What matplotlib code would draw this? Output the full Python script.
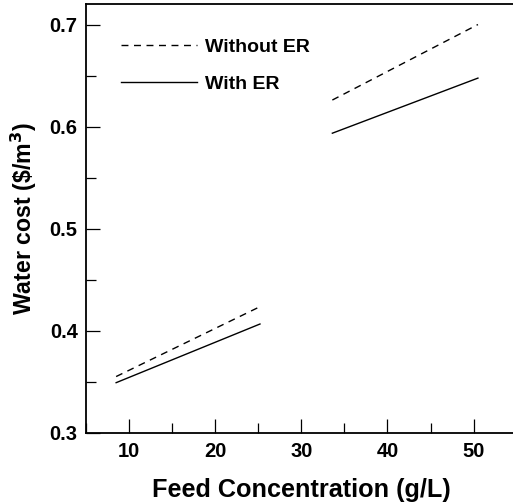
import numpy as np
import matplotlib.pyplot as plt
from matplotlib.ticker import MultipleLocator

plt.rcParams['font.family'] = ['Liberation Sans', 'DejaVu Sans']
plt.rcParams['font.weight'] = 'bold'

# two separate ranges of feed concentration
conc_low = [8.5, 25.2]
conc_high = [33.6, 50.5]
without_er_low = [0.355, 0.4235]
without_er_high = [0.626, 0.700]
with_er_low = [0.349, 0.4065]
with_er_high = [0.5935, 0.6475]

fig = plt.figure(figsize=(5.13, 5.03), dpi=100)
ax = fig.add_axes([0.1676, 0.1398, 0.8396, 0.852])

dash = (0, (5, 4))
ax.plot(conc_low, without_er_low, color='black', lw=1.0, linestyle=dash, label='Without ER')
ax.plot(conc_high, without_er_high, color='black', lw=1.0, linestyle=dash)
ax.plot(conc_low, with_er_low, color='black', lw=1.0, label='With ER')
ax.plot(conc_high, with_er_high, color='black', lw=1.0)

ax.set_xlim(5, 55)
ax.set_ylim(0.3, 0.72)
ax.xaxis.set_major_locator(MultipleLocator(10))
ax.xaxis.set_minor_locator(MultipleLocator(5))
ax.yaxis.set_major_locator(MultipleLocator(0.1))
ax.yaxis.set_minor_locator(MultipleLocator(0.05))
ax.tick_params(which='major', direction='in', length=10, width=0.9, labelsize=14.5, pad=6.5)
ax.tick_params(which='minor', direction='in', length=7.5, width=0.9)
ax.tick_params(axis='y', pad=6)
for sp in ax.spines.values():
    sp.set_linewidth(1.3)

ax.set_xlabel('Feed Concentration (g/L)', fontsize=18.2, fontweight='bold', labelpad=12.5)
ax.set_ylabel('Water cost (\\$/m$^3$)', fontsize=16.7, fontweight='bold', labelpad=8)

ax.legend(loc='upper left', bbox_to_anchor=(0.081, 0.92), frameon=False, fontsize=14,
          handlelength=3.9, handletextpad=0.45, labelspacing=1.0, borderpad=0, borderaxespad=0)

fig.savefig('out.png', dpi=100)
